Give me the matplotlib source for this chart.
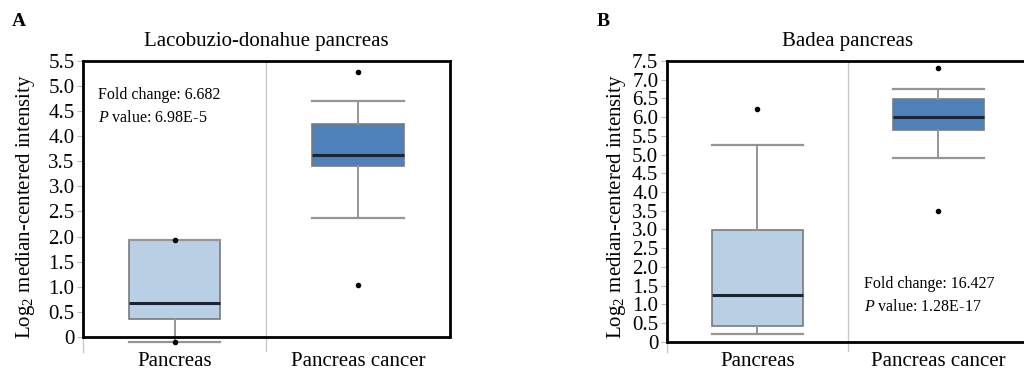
import numpy as np
import matplotlib.pyplot as plt

plt.rcParams['font.family'] = ['Liberation Serif', 'DejaVu Serif']
plt.rcParams['mathtext.fontset'] = 'custom'
plt.rcParams['mathtext.rm'] = 'Liberation Serif'
plt.rcParams['mathtext.it'] = 'Liberation Serif:italic'

groups = ['Pancreas', 'Pancreas cancer']

# panel A: Lacobuzio-donahue pancreas
a_whislo = [-0.10, 2.36]
a_q1 = [0.35, 3.40]
a_med = [0.68, 3.63]
a_q3 = [1.93, 4.24]
a_whishi = [1.93, 4.70]
a_fliers = [[1.93, -0.10], [5.28, 1.03]]
a_ticks = [0, 0.5, 1.0, 1.5, 2.0, 2.5, 3.0, 3.5, 4.0, 4.5, 5.0, 5.5]

# panel B: Badea pancreas
b_whislo = [0.21, 4.90]
b_q1 = [0.41, 5.65]
b_med = [1.25, 6.01]
b_q3 = [2.99, 6.48]
b_whishi = [5.25, 6.74]
b_fliers = [[6.22], [7.32, 3.49]]
b_ticks = [0, 0.5, 1.0, 1.5, 2.0, 2.5, 3.0, 3.5, 4.0, 4.5, 5.0, 5.5, 6.0, 6.5, 7.0, 7.5]

light = '#b9cfe4'
dark = '#4e81b9'
grey = '#959595'


def panel(ax, whislo, q1, med, q3, whishi, fliers, ticks, ylow, title, txt, txtpos, lpad):
    stats = []
    for i in range(len(groups)):
        stats.append(dict(whislo=whislo[i], q1=q1[i], med=med[i], q3=q3[i],
                          whishi=whishi[i], fliers=fliers[i]))
    pos = [0.5, 1.5]
    bp = ax.bxp(stats, positions=pos, widths=0.5, capwidths=0.5, patch_artist=True,
                boxprops=dict(edgecolor='#7a7a7a', linewidth=1.2),
                whiskerprops=dict(color=grey, linewidth=1.4),
                capprops=dict(color=grey, linewidth=1.6),
                medianprops=dict(color='#1b2533', linewidth=2.2),
                flierprops=dict(marker='o', markersize=3, markerfacecolor='black',
                                markeredgecolor='black'))
    for patch, c in zip(bp['boxes'], [light, dark]):
        patch.set_facecolor(c)
    top = ticks[-1]
    ax.set_xlim(0, 2)
    ax.set_ylim(ylow, top)
    ax.spines['bottom'].set_visible(False)
    for s in ['top', 'right', 'left']:
        ax.spines[s].set_linewidth(2)
        ax.spines[s].set_color('black')
    ax.spines['left'].set_bounds(0, top)
    ax.spines['right'].set_bounds(0, top)
    ax.axvline(0, color='#c8c8c8', lw=1, zorder=0, clip_on=False)
    ax.axvline(1, color='#c8c8c8', lw=1, zorder=0)
    ax.axhline(0, color='black', lw=2, zorder=3)
    ax.set_yticks(ticks)
    ax.set_yticklabels(['0'] + ['%.1f' % t for t in ticks[1:]])
    ax.set_xticks(pos)
    ax.set_xticklabels(groups)
    ax.tick_params(axis='y', labelsize=15, length=4, color='#bbbbbb', pad=2)
    ax.tick_params(axis='x', labelsize=15, length=0, pad=0)
    ax.set_ylabel('Log$_2$ median-centered intensity', fontsize=15, labelpad=lpad)
    ax.set_title(title, fontsize=15, pad=11)
    ax.text(txtpos[0], txtpos[1], txt, transform=ax.transAxes, fontsize=11.5,
            va='top', ha='left', linespacing=1.6)


fig = plt.figure(figsize=(10.24, 3.72), dpi=100)
axA = fig.add_axes([0.081, 0.054, 0.358, 0.782])
axB = fig.add_axes([0.651, 0.054, 0.354, 0.782])

panel(axA, a_whislo, a_q1, a_med, a_q3, a_whishi, a_fliers, a_ticks, -0.3,
      'Lacobuzio-donahue pancreas', 'Fold change: 6.682\n$\\mathit{P}$ value: 6.98E-5',
      (0.04, 0.91), 8)
panel(axB, b_whislo, b_q1, b_med, b_q3, b_whishi, b_fliers, b_ticks, -0.27,
      'Badea pancreas', 'Fold change: 16.427\n$\\mathit{P}$ value: 1.28E-17',
      (0.545, 0.26), 3)

fig.text(0.012, 0.93, 'A', fontsize=14, fontweight='bold')
fig.text(0.583, 0.93, 'B', fontsize=14, fontweight='bold')

fig.savefig('out.png', dpi=100)
